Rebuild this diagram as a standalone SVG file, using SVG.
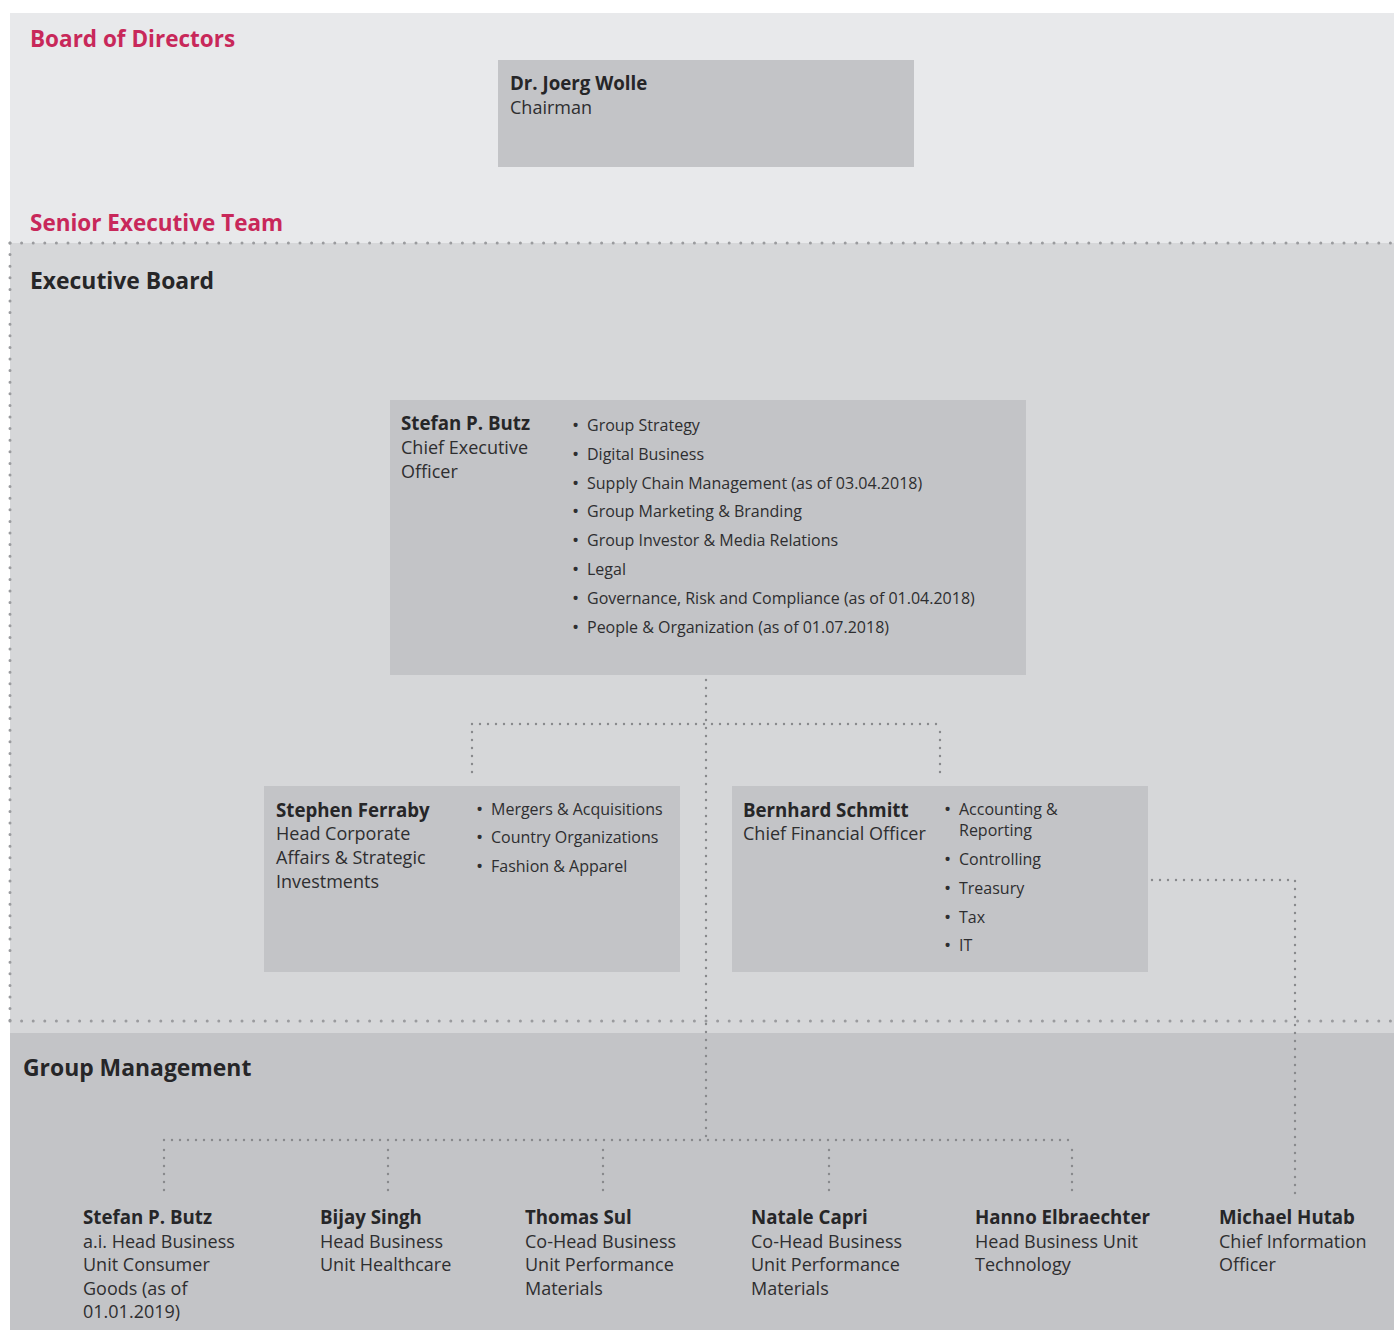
<svg xmlns="http://www.w3.org/2000/svg" width="1394" height="1330" viewBox="0 0 1394 1330">
  <style>
    text { font-family: "Open Sans", "Noto Sans", "DejaVu Sans", sans-serif; fill: #2e2e30; }
    .section { font-size: 22.5px; font-weight: 700; fill: #c8285a; }
    .tier { font-size: 22.9px; font-weight: 700; fill: #262628; }
    .name { font-size: 18.7px; font-weight: 700; fill: #262628; }
    .role { font-size: 18px; }
    .item { font-size: 16px; }
    .dot { font-size: 19px; }
    .box { fill: #c3c4c7; }
    .edge { fill: none; stroke: #88898c; stroke-width: 2.4; stroke-linecap: round; stroke-dasharray: 0 8; }
    .frame { fill: none; stroke: #9a9b9e; stroke-width: 3; stroke-linecap: round; stroke-dasharray: 0 11.6; }
  </style>

  <!-- tier bands -->
  <rect x="0" y="0" width="1394" height="1330" fill="#ffffff"/>
  <rect x="10" y="13" width="1384" height="230" fill="#e8e9eb"/>
  <rect x="10" y="243" width="1384" height="790" fill="#d6d7d9"/>
  <rect x="10" y="1033" width="1384" height="297" fill="#c3c4c7"/>

  <!-- dotted frame of the senior executive team -->
  <g id="frame">
    <path class="frame" d="M10,243 H1394"/>
    <path class="frame" d="M10,243 V1021"/>
    <path class="frame" d="M10,1021 H1394"/>
  </g>

  <!-- tier headings -->
  <text class="section" x="30" y="47">Board of Directors</text>
  <text class="section" x="30" y="231">Senior Executive Team</text>
  <text class="tier" x="30" y="289">Executive Board</text>
  <text class="tier" x="23" y="1076">Group Management</text>

  <!-- reporting lines -->
  <g id="connectors">
    <path class="edge" d="M706,680 V1140"/>
    <path class="edge" d="M472,724 H940"/>
    <path class="edge" d="M472,732 V780"/>
    <path class="edge" d="M940,732 V780"/>
    <path class="edge" d="M1152,880 H1295 V1198"/>
    <path class="edge" d="M164,1140 H1072"/>
    <path class="edge" d="M164,1150 V1198"/>
    <path class="edge" d="M388,1150 V1198"/>
    <path class="edge" d="M603,1150 V1198"/>
    <path class="edge" d="M829,1150 V1198"/>
    <path class="edge" d="M1072,1150 V1198"/>
  </g>

  <!-- Board of Directors -->
  <g id="chairman">
    <rect class="box" x="498" y="60" width="416" height="107"/>
    <text class="name" x="510" y="90">Dr. Joerg Wolle</text>
    <text class="role" x="510" y="114">Chairman</text>
  </g>

  <!-- Executive Board -->
  <g id="ceo">
    <rect class="box" x="390" y="400" width="636" height="275"/>
    <text class="name" x="401" y="430">Stefan P. Butz</text>
    <text class="role" x="401" y="454">Chief Executive</text>
    <text class="role" x="401" y="478">Officer</text>
    <g class="item">
      <text class="dot" x="572" y="432">•</text><text x="587" y="431">Group Strategy</text>
      <text class="dot" x="572" y="461">•</text><text x="587" y="460">Digital Business</text>
      <text class="dot" x="572" y="490">•</text><text x="587" y="489">Supply Chain Management (as of 03.04.2018)</text>
      <text class="dot" x="572" y="518">•</text><text x="587" y="517">Group Marketing &amp; Branding</text>
      <text class="dot" x="572" y="547">•</text><text x="587" y="546">Group Investor &amp; Media Relations</text>
      <text class="dot" x="572" y="576">•</text><text x="587" y="575">Legal</text>
      <text class="dot" x="572" y="605">•</text><text x="587" y="604">Governance, Risk and Compliance (as of 01.04.2018)</text>
      <text class="dot" x="572" y="634">•</text><text x="587" y="633">People &amp; Organization (as of 01.07.2018)</text>
    </g>
  </g>

  <g id="ferraby">
    <rect class="box" x="264" y="786" width="416" height="186"/>
    <text class="name" x="276" y="817">Stephen Ferraby</text>
    <text class="role" x="276" y="840">Head Corporate</text>
    <text class="role" x="276" y="864">Affairs &amp; Strategic</text>
    <text class="role" x="276" y="888">Investments</text>
    <g class="item">
      <text class="dot" x="476" y="816">•</text><text x="491" y="815">Mergers &amp; Acquisitions</text>
      <text class="dot" x="476" y="844">•</text><text x="491" y="843">Country Organizations</text>
      <text class="dot" x="476" y="873">•</text><text x="491" y="872">Fashion &amp; Apparel</text>
    </g>
  </g>

  <g id="schmitt">
    <rect class="box" x="732" y="786" width="416" height="186"/>
    <text class="name" x="743" y="817">Bernhard Schmitt</text>
    <text class="role" x="743" y="840">Chief Financial Officer</text>
    <g class="item">
      <text class="dot" x="944" y="816">•</text><text x="959" y="815">Accounting &amp;</text>
      <text x="959" y="836">Reporting</text>
      <text class="dot" x="944" y="866">•</text><text x="959" y="865">Controlling</text>
      <text class="dot" x="944" y="895">•</text><text x="959" y="894">Treasury</text>
      <text class="dot" x="944" y="924">•</text><text x="959" y="923">Tax</text>
      <text class="dot" x="944" y="952">•</text><text x="959" y="951">IT</text>
    </g>
  </g>

  <!-- Group Management -->
  <g id="butz-consumer">
    <text class="name" x="83" y="1224">Stefan P. Butz</text>
    <text class="role" x="83" y="1248">a.i. Head Business</text>
    <text class="role" x="83" y="1271">Unit Consumer</text>
    <text class="role" x="83" y="1295">Goods (as of</text>
    <text class="role" x="83" y="1318">01.01.2019)</text>
  </g>
  <g id="singh">
    <text class="name" x="320" y="1224">Bijay Singh</text>
    <text class="role" x="320" y="1248">Head Business</text>
    <text class="role" x="320" y="1271">Unit Healthcare</text>
  </g>
  <g id="sul">
    <text class="name" x="525" y="1224">Thomas Sul</text>
    <text class="role" x="525" y="1248">Co-Head Business</text>
    <text class="role" x="525" y="1271">Unit Performance</text>
    <text class="role" x="525" y="1295">Materials</text>
  </g>
  <g id="capri">
    <text class="name" x="751" y="1224">Natale Capri</text>
    <text class="role" x="751" y="1248">Co-Head Business</text>
    <text class="role" x="751" y="1271">Unit Performance</text>
    <text class="role" x="751" y="1295">Materials</text>
  </g>
  <g id="elbraechter">
    <text class="name" x="975" y="1224">Hanno Elbraechter</text>
    <text class="role" x="975" y="1248">Head Business Unit</text>
    <text class="role" x="975" y="1271">Technology</text>
  </g>
  <g id="hutab">
    <text class="name" x="1219" y="1224">Michael Hutab</text>
    <text class="role" x="1219" y="1248">Chief Information</text>
    <text class="role" x="1219" y="1271">Officer</text>
  </g>
</svg>
